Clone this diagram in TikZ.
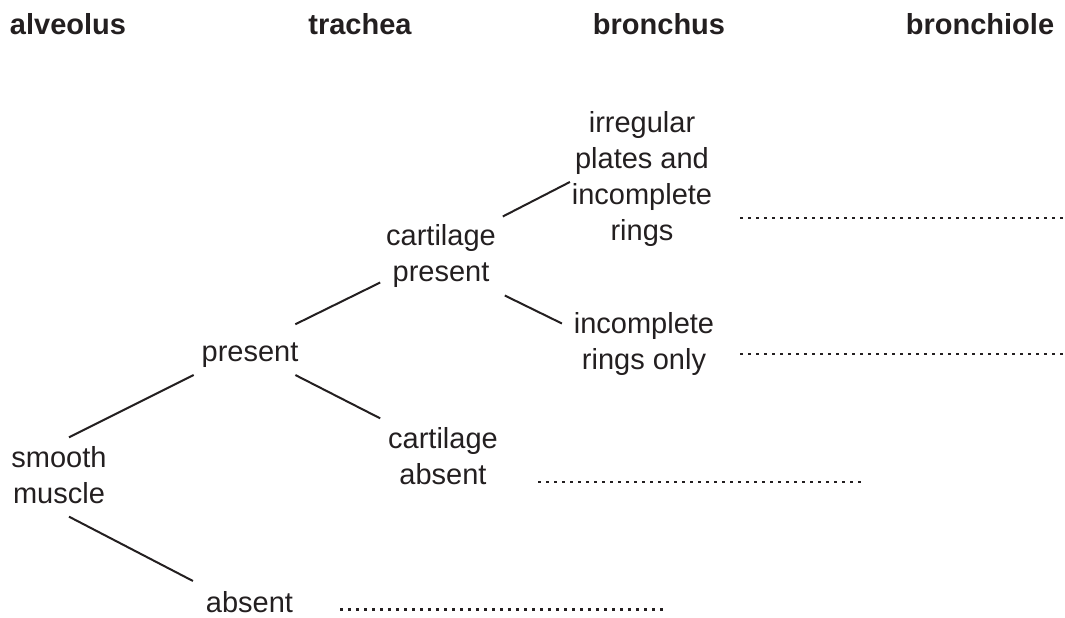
\documentclass[tikz,border=0pt]{standalone}
\usepackage{fontspec}
\setmainfont{Liberation Sans}
\usetikzlibrary{calc}
\definecolor{ink}{RGB}{35,31,32}

\begin{document}
\begin{tikzpicture}[x=1pt, y=-1pt, inner sep=0pt, outer sep=0pt,
    every node/.style={text=ink, font=\fontsize{29}{36}\selectfont},
    term/.style={align=center},
    head/.style={anchor=base, font=\fontsize{29}{36}\selectfont\bfseries},
    branch/.style={draw=ink, line width=2pt},
    blank/.style={draw=ink, line width=2.5pt, dash pattern=on 2.5pt off 5.5pt}]
    \useasboundingbox (0,0) rectangle (1065,618);

    % Column headings
    \node [head] (hAlv) at (68,35)  {alveolus};
    \node [head] (hTra) at (360,35) {trachea};
    \node [head] (hBro) at (659,35) {bronchus};
    \node [head] (hBrl) at (980,35) {bronchiole};

    % Key {sm, pr, ab, cp, ca, ir, io}
    \node [term]              (sm) at (59,475)    {smooth\\muscle};
    \node [term, anchor=base] (pr) at (250,361)   {present};
    \node [term, anchor=base] (ab) at (249.5,612) {absent};
    \node [term]              (cp) at (441,256)   {cartilage\\present};
    \node [term]              (ca) at (443,456)   {cartilage\\absent};
    \node [term]              (ir) at (642,179)   {irregular\\plates and\\incomplete\\rings};
    \node [term]              (io) at (644,344)   {incomplete\\rings only};

    % Branches
    \draw [branch] ($(sm.north)+(10,-9)$)       -- ($(pr.south west)+(-8,8)$);
    \draw [branch] ($(sm.south)+(10,13)$)       -- ($(ab.north west)+(-13,-10)$);
    \draw [branch] ($(pr.north east)+(-3,-18)$) -- ($(cp.south west)+(-6,-5)$);
    \draw [branch] ($(pr.south east)+(-3,8)$)   -- ($(ca.north west)+(-8,-9)$);
    \draw [branch] ($(cp.north east)+(7,-8)$)   -- ($(ir.west)+(-2,3)$);
    \draw [branch] ($(cp.south east)+(9,8)$)    -- ($(io.north west)+(-12,11)$);

    % Answer lines
    \draw [blank] (740,218)   -- (1063,218);
    \draw [blank] (740,354)   -- (1063,354);
    \draw [blank] (538,482)   -- (861,482);
    \draw [blank] (340,609.5) -- (663,609.5);
\end{tikzpicture}
\end{document}
